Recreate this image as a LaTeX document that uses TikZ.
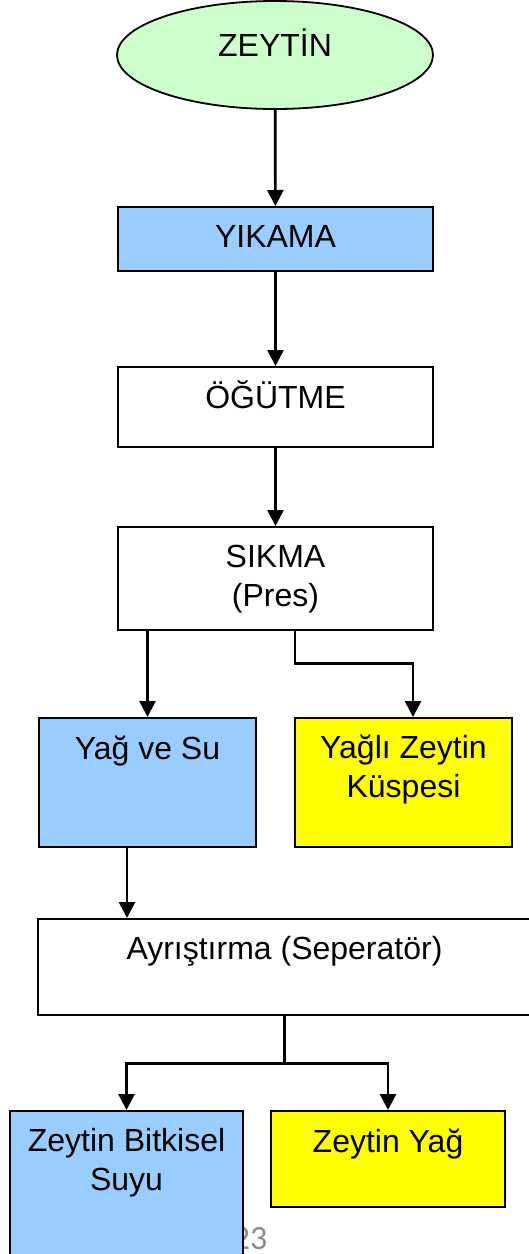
\documentclass[tikz,border=0pt]{standalone}
\usepackage{fontspec}
\setmainfont{Liberation Sans}
\newfontfamily\sayfafont{Carlito}
\usetikzlibrary{arrows.meta,shapes.geometric}

\definecolor{acikyesil}{HTML}{CCFFCC}
\definecolor{acikmavi}{HTML}{99CCFF}
\definecolor{sari}{HTML}{FFFF00}

\begin{document}
\begin{tikzpicture}[x=1pt,y=-1pt,
                    every node/.style={draw,line width=1.8pt,inner sep=0pt,align=center,
                                       font=\fontsize{32}{39}\selectfont},
                    kutu/.style={rectangle,anchor=north,text height=41pt},
                    ok/.style={-{Triangle[length=16pt,width=16pt]},line width=2.7pt}]

    \useasboundingbox (0,0) rectangle (528,1254);

    \node [draw=none,anchor=base,text=black!45,font=\fontsize{34}{40}\sayfafont] (sayfa) at (250,1249) {23};

    \node [ellipse,fill=acikyesil,minimum width=316pt,minimum height=108pt,
           text height=23pt,text depth=21pt] (zeytin) at (275,55) {ZEYTİN};
    \node [kutu,fill=acikmavi,minimum width=315pt,text depth=23pt] (yikama) at (275.5,206) {YIKAMA};
    \node [kutu,minimum width=315pt,text height=42pt,text depth=38pt] (ogutme) at (275.5,366) {ÖĞÜTME};
    \node [kutu,minimum width=315pt,text height=80pt,text depth=23pt] (sikma) at (275.5,526) {SIKMA\\(Pres)};
    \node [kutu,fill=acikmavi,minimum width=217pt,text height=42pt,text depth=87pt] (yagsu) at (147.5,717) {Yağ ve Su};
    \node [kutu,fill=sari,minimum width=217pt,text height=80pt,text depth=49pt] (kuspe) at (403.5,717) {Yağlı Zeytin\\Küspesi};
    \node [kutu,minimum width=493pt,text depth=55pt] (ayristirma) at (284.5,918) {Ayrıştırma (Seperatör)};
    \node [kutu,fill=acikmavi,minimum width=233pt,text height=80pt,text depth=68pt] (bitkisel) at (126.5,1110) {Zeytin Bitkisel\\Suyu};
    \node [kutu,fill=sari,minimum width=234pt,text height=42pt,text depth=54pt] (zyag) at (388,1110) {Zeytin Yağ};

    \draw [ok] (zeytin) -- (yikama);
    \draw [ok] (yikama) -- (ogutme);
    \draw [ok] (ogutme) -- (sikma);
    \draw [ok] (sikma.south -| yagsu) -- (yagsu);
    \draw [ok] ([xshift=19.5pt]sikma.south) -- ++(0,33) -| ([xshift=9.5pt]kuspe.north);
    \draw [ok] ([xshift=-20.5pt]yagsu.south) -- ([xshift=-20.5pt]yagsu.south |- ayristirma.north);
    \draw [line width=2.7pt] (ayristirma.south) -- ++(0,48) coordinate (dal);
    \draw [ok] (dal) -| (bitkisel);
    \draw [ok] (dal) -| (zyag);
\end{tikzpicture}
\end{document}
